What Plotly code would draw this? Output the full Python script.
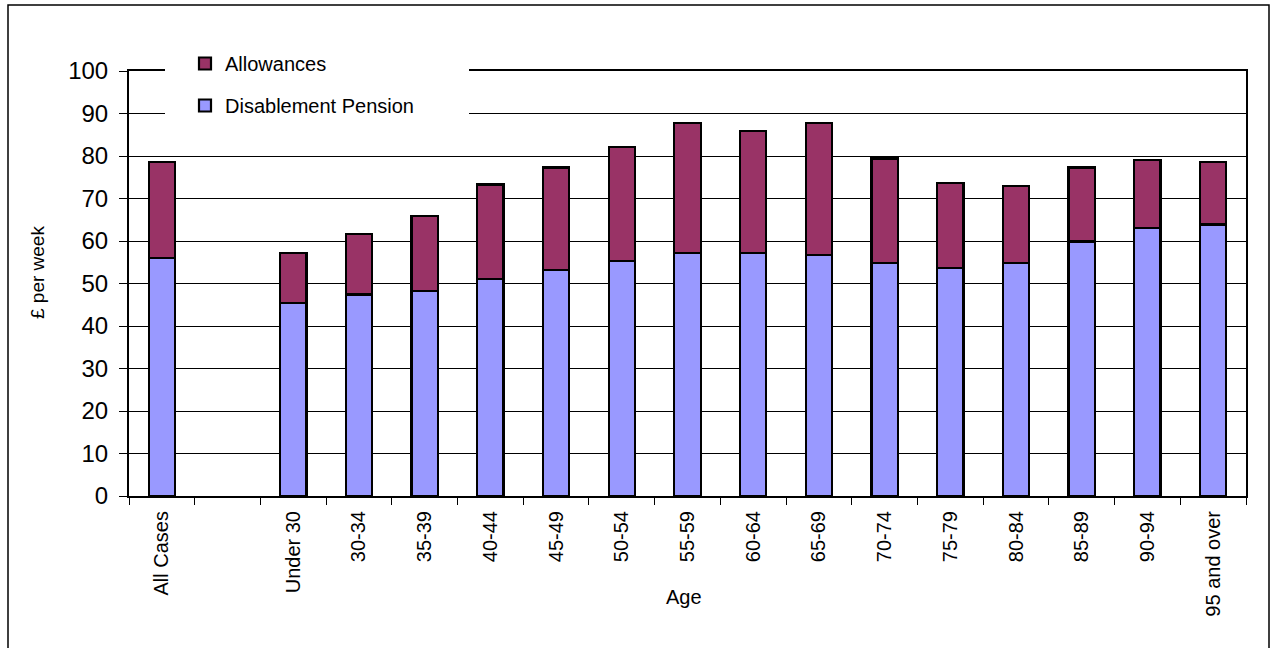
import plotly.graph_objects as go

# Average weekly war pension payments by age group (£ per week)
ages = ["All Cases", " ", "Under 30", "30-34", "35-39", "40-44", "45-49",
        "50-54", "55-59", "60-64", "65-69", "70-74", "75-79", "80-84",
        "85-89", "90-94", "95 and over"]
totals = [78.5, None, 57.2, 61.6, 65.8, 73.3, 77.3, 82.1, 87.7, 85.9,
          87.7, 79.4, 73.7, 72.9, 77.3, 79.1, 78.5]
disablement_pension = [56.0, None, 45.4, 47.4, 48.3, 51.1, 53.1, 55.3, 57.2,
                       57.2, 56.7, 54.9, 53.6, 54.9, 59.9, 63.1, 63.9]
allowances = [None if t is None else round(t - p, 1)
              for t, p in zip(totals, disablement_pension)]

FONT = "Arial, Liberation Sans, sans-serif"
W, H = 1273, 648
ML, MR, MT, MB = 129, 27, 71, 152
PW, PH = W - ML - MR, H - MT - MB


def px_x(x):
    return (x - ML) / PW


def px_y(y):
    return (H - MB - y) / PH


fig = go.Figure()
fig.add_trace(go.Bar(
    x=ages, y=disablement_pension, name="Disablement Pension",
    marker=dict(color="#9999FF", line=dict(color="black", width=2.2)),
    legendgroup="pension", legendrank=2,
))
fig.add_trace(go.Bar(
    x=ages, y=allowances, name="Allowances",
    marker=dict(color="#993366", line=dict(color="black", width=2.2)),
    legendgroup="allow", legendrank=1,
))

shapes = [
    # white panel behind the legend
    dict(type="rect", xref="paper", yref="paper", layer="above",
         x0=px_x(165), x1=px_x(469), y0=px_y(122), y1=px_y(45),
         fillcolor="white", line=dict(width=0)),
    # outer chart border
    dict(type="rect", xref="paper", yref="paper", layer="below",
         x0=px_x(8), x1=px_x(1269), y0=px_y(700), y1=px_y(5),
         fillcolor="rgba(0,0,0,0)", line=dict(color="black", width=1.5)),
]

annotations = [
    dict(text="Age", xref="paper", yref="paper", x=px_x(684), y=px_y(597),
         showarrow=False, font=dict(family=FONT, size=20, color="black"),
         xanchor="center", yanchor="middle"),
    dict(text="£ per week", xref="paper", yref="paper", x=px_x(37), y=px_y(273),
         showarrow=False, textangle=-90,
         font=dict(family=FONT, size=19, color="black"),
         xanchor="center", yanchor="middle"),
]

fig.update_layout(
    width=W, height=H,
    margin=dict(l=ML, r=MR, t=MT, b=MB),
    barmode="stack", bargap=0.6,
    paper_bgcolor="white", plot_bgcolor="white",
    font=dict(family=FONT, color="black"),
    showlegend=True,
    legend=dict(
        x=px_x(185), y=px_y(44), xanchor="left", yanchor="top",
        bgcolor="rgba(0,0,0,0)", borderwidth=0,
        traceorder="grouped", tracegroupgap=13,
        font=dict(family=FONT, size=20, color="black"),
    ),
    shapes=shapes,
    annotations=annotations,
)

fig.update_xaxes(
    type="category", categoryorder="array", categoryarray=ages,
    showline=True, linecolor="black", linewidth=2, mirror=True,
    ticks="outside", tickson="boundaries", ticklen=7,
    tickcolor="black", tickwidth=1,
    tickangle=-90, tickfont=dict(family=FONT, size=20, color="black"),
    ticklabelstandoff=5,
    showgrid=False,
)
fig.update_yaxes(
    range=[0, 100], dtick=10, tick0=0,
    showline=True, linecolor="black", linewidth=2, mirror=True,
    ticks="outside", ticklen=8, tickcolor="black", tickwidth=1,
    tickfont=dict(family=FONT, size=24, color="black"),
    ticklabelstandoff=6,
    showgrid=True, gridcolor="black", gridwidth=1,
    zeroline=False,
)

fig.write_html("out.html")
